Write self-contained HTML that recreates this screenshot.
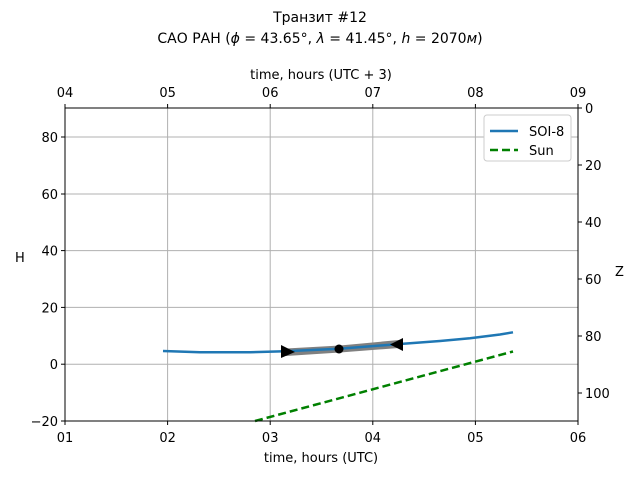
<!DOCTYPE html>
<html><head><meta charset="utf-8"><style>body{margin:0;background:#fff}</style></head><body>
<svg width="640" height="480" xmlns="http://www.w3.org/2000/svg" font-family="DejaVu Sans, Liberation Sans, sans-serif" font-size="13">
<rect width="640" height="480" fill="#fff"/>
<text x="320" y="22" text-anchor="middle" font-size="14">Транзит #12</text>
<text x="320" y="43" text-anchor="middle" font-size="14">САО РАН (<tspan font-style="italic">ϕ</tspan> = 43.65°, <tspan font-style="italic">λ</tspan> = 41.45°, <tspan font-style="italic">h</tspan> = 2070<tspan font-style="italic">м</tspan>)</text>
<g stroke="#b0b0b0" stroke-width="1">
<line x1="167.6" y1="108" x2="167.6" y2="421"/><line x1="270.2" y1="108" x2="270.2" y2="421"/><line x1="372.8" y1="108" x2="372.8" y2="421"/><line x1="475.4" y1="108" x2="475.4" y2="421"/>
<line x1="65" y1="137" x2="578" y2="137"/><line x1="65" y1="194" x2="578" y2="194"/><line x1="65" y1="250.6" x2="578" y2="250.6"/><line x1="65" y1="307.4" x2="578" y2="307.4"/><line x1="65" y1="364.2" x2="578" y2="364.2"/>
</g>
<polyline fill="none" stroke="#008000" stroke-width="2.5" stroke-dasharray="8,4" points="255,421 513,351.5"/>
<path d="M286,356 L340,352.5 L399,348 L399,340 L340,345.5 L286,348.5Z" fill="#808080"/>
<polyline fill="none" stroke="#1f77b4" stroke-width="2.5" points="163,351 200,352.3 250,352.2 285,351.3 339,348.8 400,344 440,341 470,338.2 500,334.5 513,332.3"/>
<polygon points="281,345 295,352 281,358" fill="#000"/>
<circle cx="339" cy="349" r="4.5" fill="#000"/>
<polygon points="403,338 390,344.5 403,351" fill="#000"/>
<rect x="65" y="108" width="513" height="313" fill="none" stroke="#000" stroke-width="1"/>
<g stroke="#000">
<line x1="65" y1="421" x2="65" y2="425"/><line x1="167.6" y1="421" x2="167.6" y2="425"/><line x1="270.2" y1="421" x2="270.2" y2="425"/><line x1="372.8" y1="421" x2="372.8" y2="425"/><line x1="475.4" y1="421" x2="475.4" y2="425"/><line x1="578" y1="421" x2="578" y2="425"/>
<line x1="65" y1="108" x2="65" y2="104"/><line x1="167.6" y1="108" x2="167.6" y2="104"/><line x1="270.2" y1="108" x2="270.2" y2="104"/><line x1="372.8" y1="108" x2="372.8" y2="104"/><line x1="475.4" y1="108" x2="475.4" y2="104"/><line x1="578" y1="108" x2="578" y2="104"/>
<line x1="61" y1="137" x2="65" y2="137"/><line x1="61" y1="194" x2="65" y2="194"/><line x1="61" y1="250.6" x2="65" y2="250.6"/><line x1="61" y1="307.4" x2="65" y2="307.4"/><line x1="61" y1="364.2" x2="65" y2="364.2"/><line x1="61" y1="421" x2="65" y2="421"/>
<line x1="578" y1="108" x2="582" y2="108"/><line x1="578" y1="165" x2="582" y2="165"/><line x1="578" y1="222" x2="582" y2="222"/><line x1="578" y1="279" x2="582" y2="279"/><line x1="578" y1="336" x2="582" y2="336"/><line x1="578" y1="393" x2="582" y2="393"/>
</g>
<g text-anchor="middle" font-size="13">
<text x="65" y="442">01</text><text x="167.6" y="442">02</text><text x="270.2" y="442">03</text><text x="372.8" y="442">04</text><text x="475.4" y="442">05</text><text x="578" y="442">06</text>
<text x="65" y="97">04</text><text x="167.6" y="97">05</text><text x="270.2" y="97">06</text><text x="372.8" y="97">07</text><text x="475.4" y="97">08</text><text x="578" y="97">09</text>
<text x="321" y="462">time, hours (UTC)</text>
<text x="321" y="79">time, hours (UTC + 3)</text>
</g>
<g text-anchor="end">
<text x="58" y="142">80</text><text x="58" y="199">60</text><text x="58" y="255.6">40</text><text x="58" y="312.4">20</text><text x="58" y="369.2">0</text><text x="58" y="426">−20</text>
</g>
<g text-anchor="start">
<text x="585" y="113">0</text><text x="585" y="170">20</text><text x="585" y="227">40</text><text x="585" y="284">60</text><text x="585" y="341">80</text><text x="585" y="398">100</text>
</g>
<text x="15" y="262">H</text>
<text x="615" y="276">Z</text>
<rect x="484" y="115" width="87" height="46" rx="3" fill="#fff" stroke="#ccc"/>
<line x1="490" y1="131" x2="518" y2="131" stroke="#1f77b4" stroke-width="2.5"/>
<text x="529" y="136">SOI-8</text>
<line x1="490" y1="150" x2="518" y2="150" stroke="#008000" stroke-width="2.5" stroke-dasharray="8,4"/>
<text x="529" y="155">Sun</text>
</svg>
</body></html>
